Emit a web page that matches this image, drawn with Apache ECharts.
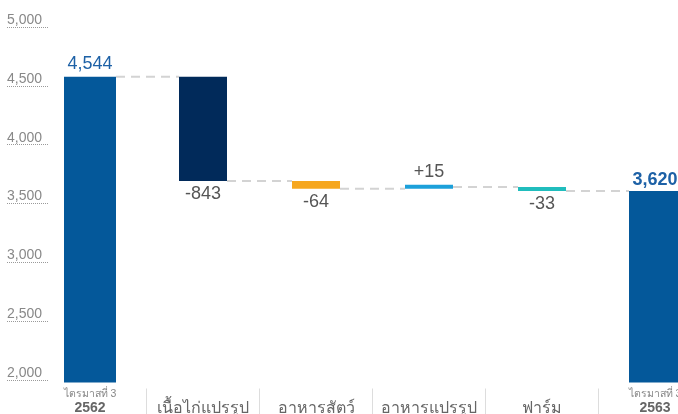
<!DOCTYPE html>
<html><head><meta charset="utf-8">
<script src="https://cdn.jsdelivr.net/npm/echarts@6/dist/echarts.min.js"></script>
<style>html,body{margin:0;padding:0;background:#fff}#c{width:678px;height:414px}</style>
</head><body><div id="c"></div>
<script>
// ---- data ----
const categories = ['2562', 'เนื้อไก่แปรรูป', 'อาหารสัตว์', 'อาหารแปรรูป', 'ฟาร์ม', '2563'];
const quarterLabel = 'ไตรมาสที่ 3';
const startTotal = 4544;
const changes = [-843, -64, 15, -33];
const endTotal = 3620;
const changeColors = ['#012a5a', '#f6a71f', '#1ca0da', '#20bdbd'];
const totalColor = '#04589a';
const yTickMin = 2000, yTickMax = 5000, yTickStep = 500;

// ---- derived ----
const fmt = v => Number(v).toLocaleString('en-US');
const last = categories.length - 1;
const baseData = ['-'], deltaData = ['-'], levels = [startTotal];
let run = startTotal;
changes.forEach((c, i) => {
  const next = run + c;
  baseData.push(Math.min(run, next));
  deltaData.push({
    value: Math.abs(c),
    itemStyle: { color: changeColors[i] },
    label: { position: c < 0 ? 'bottom' : 'top', distance: 4,
             formatter: (c < 0 ? '-' : '+') + fmt(Math.abs(c)) }
  });
  run = next;
  levels.push(run);
});
baseData.push('-'); deltaData.push('-');
const totalData = categories.map((_, i) => {
  if (i === 0) return { value: startTotal };
  if (i === last) return { value: endTotal, label: { fontWeight: 'bold', distance: 2 } };
  return '-';
});
const connectors = levels.slice(0, last).map((v, i) => [i, v]);

const FONT = "'Liberation Sans', Arial, Helvetica, sans-serif";
const chart = echarts.init(document.getElementById('c'), null, { renderer: 'canvas' });
chart.setOption({
  animation: false,
  textStyle: { fontFamily: FONT },
  grid: [
    { left: 33.5, width: 678, top: 20.3, bottom: 31.5, containLabel: false, outerBoundsMode: 'none' },
    { left: 7, width: 41, top: 27, bottom: 34, containLabel: false, outerBoundsMode: 'none' }
  ],
  xAxis: [
    { gridIndex: 0, type: 'category', position: 'bottom', data: categories,
      axisLine: { show: false }, axisTick: { show: false },
      axisLabel: {
        interval: 0, margin: 5, hideOverlap: false,
        formatter: (val, idx) => (idx === 0 || idx === last)
          ? '{q|' + quarterLabel + '}\n{y|' + val + '}'
          : '{e| }\n{t|' + val + '}',
        rich: {
          q: { fontSize: 10.5, color: '#888', lineHeight: 13, fontFamily: FONT },
          y: { fontSize: 14, fontWeight: 'bold', color: '#666', lineHeight: 16, fontFamily: FONT },
          e: { fontSize: 11, lineHeight: 13 },
          t: { fontSize: 16, color: '#666', lineHeight: 16, fontFamily: FONT }
        }
      } },
    { gridIndex: 0, type: 'category', position: 'bottom', data: categories, offset: 6,
      axisLine: { show: false },
      axisTick: { show: true, interval: (i) => i > 0, length: 26, lineStyle: { color: '#dddddd', width: 1 } },
      axisLabel: { show: false } },
    { gridIndex: 1, type: 'category', data: [], show: false }
  ],
  yAxis: [
    { gridIndex: 0, type: 'value', min: 2070, max: 5000, show: false },
    { gridIndex: 1, type: 'value', min: yTickMin, max: yTickMax, interval: yTickStep,
      axisLine: { show: false }, axisTick: { show: false },
      splitLine: { show: true, lineStyle: { type: 'dotted', color: '#9a9a9a', width: 1 } },
      axisLabel: { inside: true, margin: 0, verticalAlign: 'bottom', color: '#888', fontSize: 14,
                   formatter: v => fmt(v) } }
  ],
  series: [
    { type: 'custom', xAxisIndex: 0, yAxisIndex: 0, z: 1, data: connectors,
      renderItem: (params, api) => {
        const i = api.value(0), v = api.value(1);
        const p1 = api.coord([i, v]), p2 = api.coord([i + 1, v]);
        const h1 = i === 0 ? 26 : 24, h2 = (i + 1 === last) ? 26 : 24;
        return { type: 'line',
          shape: { x1: p1[0] + h1, y1: p1[1], x2: p2[0] - h2, y2: p2[1] },
          style: { stroke: '#d3d3d3', lineWidth: 2, lineDash: [9, 6] } };
      } },
    { type: 'bar', name: 'total', xAxisIndex: 0, yAxisIndex: 0, barWidth: 52, z: 3,
      itemStyle: { color: totalColor }, data: totalData,
      label: { show: true, position: 'top', distance: 4, color: '#1d61a6', fontSize: 18,
               formatter: p => fmt(p.value) } },
    { type: 'bar', name: 'base', xAxisIndex: 1, yAxisIndex: 0, stack: 'w', barWidth: 48,
      itemStyle: { color: 'rgba(0,0,0,0)' }, data: baseData, silent: true },
    { type: 'bar', name: 'change', xAxisIndex: 1, yAxisIndex: 0, stack: 'w', barWidth: 48, z: 3,
      barMinHeight: 4, data: deltaData,
      label: { show: true, color: '#555', fontSize: 18 } }
  ]
});
</script></body></html>
